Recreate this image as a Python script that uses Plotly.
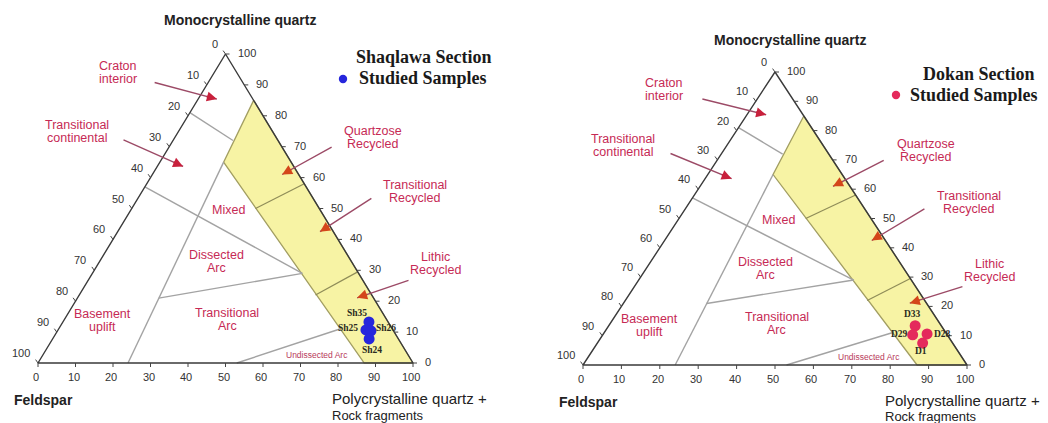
import math
import plotly.graph_objects as go

# ---------------------------------------------------------------
# Qm-F-Lt provenance diagrams (Dickinson fields) for two sections
# All compositions are percentages: Qm (top), F (left), Lt (right)
# ---------------------------------------------------------------

tick_values = [0, 10, 20, 30, 40, 50, 60, 70, 80, 90, 100]

triangle_qm = [100, 0, 0]
triangle_f = [0, 100, 0]
triangle_lt = [0, 0, 100]

# Recycled orogen field (shaded)
recycled_qm = [85, 65, 0, 0]
recycled_f = [0, 18, 13, 0]
recycled_lt = [15, 17, 87, 100]

# Subdivisions of the recycled orogen (quartzose / transitional / lithic)
recycled_split_qm = [[50, 58], [22, 29.5]]
recycled_split_f = [[17, 0], [15, 0]]
recycled_split_lt = [[33, 42], [63, 70.5]]

# Remaining field boundaries (start, end)
boundary_qm = [[81, 72], [57, 29], [0, 65], [21, 29], [0, 11]]
boundary_f = [[19, 12], [43, 15], [76, 18], [57.3, 15], [47, 14]]
boundary_lt = [[0, 16], [0, 56], [24, 17], [21.7, 56], [53, 75]]

# Studied samples
shaqlawa_names = ["Sh35", "Sh25", "Sh26", "Sh24"]
shaqlawa_qm = [13.3, 10.7, 10.4, 7.8]
shaqlawa_f = [5.1, 7.2, 6.0, 7.8]
shaqlawa_lt = [81.6, 82.1, 83.6, 84.4]

dokan_names = ["D33", "D29", "D28", "D1"]
dokan_qm = [13.4, 10.3, 10.6, 7.5]
dokan_f = [6.8, 9.0, 5.1, 7.8]
dokan_lt = [79.8, 80.7, 84.3, 84.7]

# ---------------------------------------------------------------
# styling / layout
# ---------------------------------------------------------------
W, H = 1048, 423
SANS = "Liberation Sans, Arial, sans-serif"
SERIF = "Liberation Serif, Times New Roman, serif"
FIELD_COLOR = "#c62a55"
YELLOW = "#f7f3a4"
YELLOW_EDGE = "#a29e62"
GRAY_LINE = "#a3a3a3"
EDGE = "#3a3a3a"
SHAFT = "#9c4a66"

# field names: (lines, x, y) in diagram units (x = Lt + Qm/2, y = Qm)
field_labels = [
    (["Craton", "interior"], 15.7, 94.0, "left"),
    (["Transitional", "continental"], 10.4, 75.0, "center"),
    (["Quartzose", "Recycled"], 89.3, 73.1, "center"),
    (["Transitional", "Recycled"], 100.5, 55.5, "center"),
    (["Lithic", "Recycled"], 105.9, 32.1, "center"),
    (["Mixed"], 50.9, 49.4, "center"),
    (["Dissected", "Arc"], 47.5, 32.8, "center"),
    (["Transitional", "Arc"], 50.4, 14.0, "center"),
    (["Basement", "uplift"], 17.3, 13.6, "center"),
]
undissected_label = ("Undissected Arc", 74.4, 2.6)

# pointer arrows: tail (x, y) -> head (x, y), head colour
arrows = [
    ((30.7, 90.9), (47.7, 85.4), "#c8203c"),
    ((22.4, 72.4), (38.7, 63.6), "#c8203c"),
    ((78.7, 70.1), (65.1, 61.0), "#d4461a"),
    ((89.3, 53.6), (75.2, 42.5), "#d4461a"),
    ((99.2, 26.9), (85.1, 21.1), "#d4461a"),
]

panels = [
    dict(
        section="Shaqlawa Section",
        names=shaqlawa_names, qm=shaqlawa_qm, f=shaqlawa_f, lt=shaqlawa_lt,
        color="#2626dc",
        bl=(38, 363), br=(413, 363), top=54, dom=[0.0, 0.5],
        label_shift=[(-12, -9), (-18, -2), (15, -3), (3, 11)],
        title=(240, 20), feldspar=(12, 400), lithics=(330, 398, 415),
        legend_title=(424, 57), legend_item=(357, 78), legend_dot=(343, 79),
    ),
    dict(
        section="Dokan Section",
        names=dokan_names, qm=dokan_qm, f=dokan_f, lt=dokan_lt,
        color="#e42a5c",
        bl=(583, 365), br=(967, 365), top=72, dom=[0.5, 1.0],
        label_shift=[(-3, -12), (-13, -1), (15, 0), (-2, 8)],
        title=(790, 40), feldspar=(557, 402), lithics=(883, 400, 416),
        legend_title=(979, 74), legend_item=(908, 95), legend_dot=(896, 95),
    ),
]


def to_xy(qm, f, lt):
    """Ternary composition -> diagram coordinates."""
    tot = qm + f + lt
    return 100.0 * (lt + qm / 2.0) / tot, 100.0 * qm / tot


def segments(qms, fs, lts):
    xs, ys = [], []
    for q, f, l in zip(qms, fs, lts):
        for a, b, c in zip(q, f, l):
            x, y = to_xy(a, b, c)
            xs.append(x)
            ys.append(y)
        xs.append(None)
        ys.append(None)
    return xs, ys


def paper(px, py):
    return px / W, 1 - py / H


fig = go.Figure()
annotations = []
shapes = []
axes = {}

for i, p in enumerate(panels):
    sfx = "" if i == 0 else str(i + 1)
    xr, yr = "x" + sfx, "y" + sfx
    kx = (p["br"][0] - p["bl"][0]) / 100.0
    ky = (p["bl"][1] - p["top"]) / 100.0

    axes["xaxis" + sfx] = dict(
        domain=p["dom"], anchor=yr, visible=False, fixedrange=True,
        range=[(p["dom"][0] * W - p["bl"][0]) / kx, (p["dom"][1] * W - p["bl"][0]) / kx],
    )
    axes["yaxis" + sfx] = dict(
        domain=[0, 1], anchor=xr, visible=False, fixedrange=True,
        range=[-(H - p["bl"][1]) / ky, p["bl"][1] / ky],
    )

    common = dict(xaxis=xr, yaxis=yr, hoverinfo="skip", showlegend=False)

    # shaded recycled orogen
    rx, ry = zip(*[to_xy(a, b, c) for a, b, c in zip(recycled_qm, recycled_f, recycled_lt)])
    fig.add_trace(go.Scatter(
        x=list(rx) + [rx[0]], y=list(ry) + [ry[0]], mode="lines", fill="toself",
        fillcolor=YELLOW, line=dict(color=YELLOW_EDGE, width=1.3), **common))

    sx, sy = segments(recycled_split_qm, recycled_split_f, recycled_split_lt)
    fig.add_trace(go.Scatter(x=sx, y=sy, mode="lines",
                             line=dict(color="#8f8c58", width=1.2), **common))

    bx, by = segments(boundary_qm, boundary_f, boundary_lt)
    fig.add_trace(go.Scatter(x=bx, y=by, mode="lines",
                             line=dict(color=GRAY_LINE, width=1.4), **common))

    # triangle frame
    tx, ty = zip(*[to_xy(a, b, c) for a, b, c in zip(triangle_qm, triangle_f, triangle_lt)])
    fig.add_trace(go.Scatter(x=list(tx) + [tx[0]], y=list(ty) + [ty[0]], mode="lines",
                             line=dict(color=EDGE, width=1.4), **common))

    # tick marks and labels on the three edges
    kxs, kys = [], []
    for v in tick_values:
        # base: Lt scale, 0 at the F corner
        x, y = to_xy(0, 100 - v, v)
        kxs += [x, x, None]
        kys += [y, y - 4 / ky, None]
        annotations.append(dict(x=x, y=y, xref=xr, yref=yr, text=str(v), showarrow=False,
                                xshift=-2, yshift=-14, xanchor="center", yanchor="middle",
                                font=dict(family=SANS, size=11, color="#333")))
        # left edge: F scale, 0 at the Qm corner
        x, y = to_xy(100 - v, v, 0)
        kxs += [x, x - 2.4 / kx, None]
        kys += [y, y + 3.4 / ky, None]
        annotations.append(dict(x=x, y=y, xref=xr, yref=yr, text=str(v), showarrow=False,
                                xshift=-6, yshift=10, xanchor="right", yanchor="middle",
                                font=dict(family=SANS, size=11, color="#333")))
        # right edge: Qm scale, 0 at the Lt corner
        x, y = to_xy(v, 0, 100 - v)
        kxs += [x, x + 4 / kx, None]
        kys += [y, y, None]
        annotations.append(dict(x=x, y=y, xref=xr, yref=yr, text=str(v), showarrow=False,
                                xshift=10, yshift=1, xanchor="left", yanchor="middle",
                                font=dict(family=SANS, size=11, color="#333")))
    fig.add_trace(go.Scatter(x=kxs, y=kys, mode="lines",
                             line=dict(color="#444", width=1), **common))

    # field names
    for lines, lx, ly, align in field_labels:
        n = len(lines)
        for j, txt in enumerate(lines):
            annotations.append(dict(
                x=lx, y=ly, xref=xr, yref=yr, text=txt, showarrow=False,
                xanchor=align, yanchor="middle", yshift=(n - 1) * 6.5 - j * 13,
                font=dict(family=SANS, size=12.5, color=FIELD_COLOR)))
    txt, lx, ly = undissected_label
    annotations.append(dict(x=lx, y=ly, xref=xr, yref=yr, text=txt, showarrow=False,
                            font=dict(family=SANS, size=8.5, color="#b83a5a")))

    # pointer arrows: shaft then head
    for (ax_, ay_), (hx, hy), head_color in arrows:
        annotations.append(dict(x=hx, y=hy, ax=ax_, ay=ay_, xref=xr, yref=yr, axref=xr, ayref=yr,
                                text="", showarrow=True, arrowhead=0, arrowwidth=1.4,
                                arrowcolor=SHAFT, standoff=0, startstandoff=0))
        dxp, dyp = (ax_ - hx) * kx, (ay_ - hy) * ky
        L = math.hypot(dxp, dyp)
        back = 12.0 / L
        annotations.append(dict(x=hx, y=hy, ax=hx + (ax_ - hx) * back, ay=hy + (ay_ - hy) * back,
                                xref=xr, yref=yr, axref=xr, ayref=yr, text="", showarrow=True,
                                arrowhead=2, arrowsize=1.0, arrowwidth=2.0,
                                arrowcolor=head_color, standoff=0, startstandoff=0))

    # samples
    px_, py_ = zip(*[to_xy(a, b, c) for a, b, c in zip(p["qm"], p["f"], p["lt"])])
    fig.add_trace(go.Scatter(x=px_, y=py_, mode="markers",
                             marker=dict(size=11, color=p["color"], line=dict(width=0)),
                             **common))
    for name, x, y, (dx, dy) in zip(p["names"], px_, py_, p["label_shift"]):
        annotations.append(dict(x=x, y=y, xref=xr, yref=yr, text=name, showarrow=False,
                                xshift=dx, yshift=-dy,
                                font=dict(family=SERIF, size=9.5, color="#2a2a20", weight="bold")))

    # corner titles
    tx_, ty_ = paper(*p["title"])
    annotations.append(dict(x=tx_, y=ty_, xref="paper", yref="paper", text="Monocrystalline quartz",
                            showarrow=False, xanchor="center", yanchor="middle",
                            font=dict(family=SANS, size=14, color="#222", weight="bold")))
    fx, fy = paper(*p["feldspar"])
    annotations.append(dict(x=fx, y=fy, xref="paper", yref="paper", text="Feldspar",
                            showarrow=False, xanchor="left", yanchor="middle",
                            font=dict(family=SANS, size=14, color="#222", weight="bold")))
    lx0, ly1, ly2 = p["lithics"]
    for txt, yy, sz in (("Polycrystalline quartz +", ly1, 15), ("Rock fragments", ly2, 13)):
        ax_, ay_ = paper(lx0, yy)
        annotations.append(dict(x=ax_, y=ay_, xref="paper", yref="paper", text=txt,
                                showarrow=False, xanchor="left", yanchor="middle",
                                font=dict(family=SANS, size=sz, color="#222")))

    # section key
    gx, gy = paper(*p["legend_title"])
    annotations.append(dict(x=gx, y=gy, xref="paper", yref="paper", text=p["section"],
                            showarrow=False, xanchor="center", yanchor="middle",
                            font=dict(family=SERIF, size=18, color="#1a1a1a", weight="bold")))
    gx, gy = paper(*p["legend_item"])
    annotations.append(dict(x=gx, y=gy, xref="paper", yref="paper", text="Studied Samples",
                            showarrow=False, xanchor="left", yanchor="middle",
                            font=dict(family=SERIF, size=18, color="#1a1a1a", weight="bold")))
    dx_, dy_ = p["legend_dot"]
    r = 4.2
    x0, y0 = paper(dx_ - r, dy_ + r)
    x1, y1 = paper(dx_ + r, dy_ - r)
    shapes.append(dict(type="circle", xref="paper", yref="paper", x0=x0, y0=y0, x1=x1, y1=y1,
                       fillcolor=p["color"], line=dict(width=0)))

fig.update_layout(
    width=W, height=H, autosize=False,
    margin=dict(l=0, r=0, t=0, b=0),
    paper_bgcolor="white", plot_bgcolor="white",
    showlegend=False,
    annotations=annotations, shapes=shapes,
    **axes,
)

fig.write_html("out.html", config={"displayModeBar": False, "staticPlot": True})
